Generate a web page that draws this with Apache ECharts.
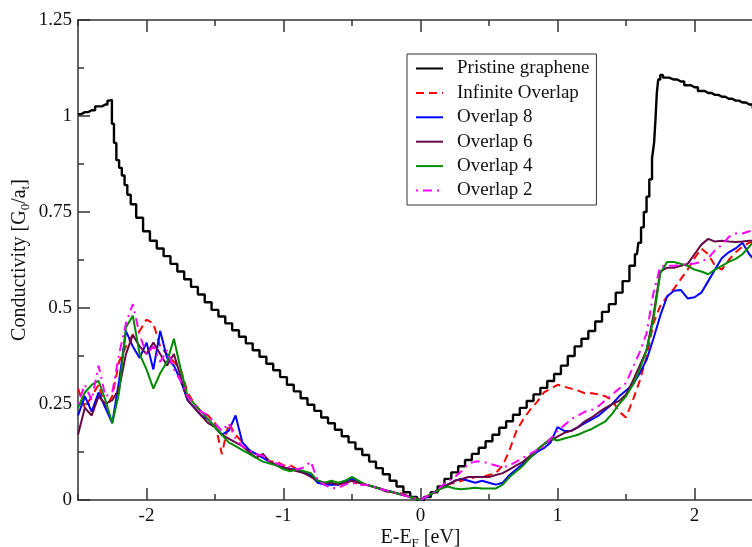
<!DOCTYPE html>
<html><head><meta charset="utf-8">
<script src="https://cdn.jsdelivr.net/npm/echarts@6/dist/echarts.min.js"></script>
<style>html,body{margin:0;padding:0;background:#fff}#c{width:752px;height:547px}</style>
</head><body><div id="c"></div>
<script>
// ---- data ----
const energy = [-2.5,-2.45,-2.4,-2.35,-2.3,-2.25,-2.2,-2.15,-2.1,-2.05,
  -2,-1.95,-1.9,-1.85,-1.8,-1.75,-1.7,-1.65,-1.6,-1.55,
  -1.5,-1.45,-1.4,-1.35,-1.3,-1.25,-1.2,-1.15,-1.1,-1.05,
  -1,-0.95,-0.9,-0.85,-0.8,-0.75,-0.7,-0.65,-0.6,-0.55,
  -0.5,-0.45,-0.4,-0.35,-0.3,-0.25,-0.2,-0.15,-0.1,-0.05,
  0,0.05,0.1,0.15,0.2,0.25,0.3,0.35,0.4,0.45,
  0.5,0.55,0.6,0.65,0.7,0.75,0.8,0.85,0.9,0.95,
  1,1.05,1.1,1.15,1.2,1.25,1.3,1.35,1.4,1.45,
  1.5,1.55,1.6,1.65,1.7,1.75,1.8,1.85,1.9,1.95,
  2,2.05,2.1,2.15,2.2,2.25,2.3,2.35,2.4,2.45,2.5];

const infiniteOverlap = [0.29,0.24,0.27,0.30,0.24,0.27,0.36,0.40,0.43,0.44,
  0.47,0.46,0.40,0.38,0.36,0.34,0.28,0.25,0.23,0.22,
  0.20,0.12,0.20,0.17,0.15,0.13,0.12,0.11,0.10,0.10,
  0.09,0.09,0.08,0.07,0.065,0.05,0.045,0.04,0.04,0.045,
  0.05,0.04,0.04,0.035,0.03,0.025,0.02,0.018,0.012,0.006,
  0,0.01,0.02,0.03,0.04,0.045,0.05,0.055,0.06,0.06,
  0.065,0.07,0.09,0.13,0.18,0.21,0.235,0.255,0.28,0.29,
  0.30,0.295,0.29,0.285,0.278,0.278,0.275,0.27,0.26,0.23,
  0.215,0.26,0.31,0.373,0.46,0.505,0.53,0.55,0.575,0.60,
  0.63,0.655,0.64,0.61,0.60,0.625,0.645,0.66,0.67,0.675,0.68];

const overlap8 = [0.22,0.27,0.23,0.28,0.24,0.20,0.31,0.44,0.40,0.37,
  0.41,0.34,0.44,0.37,0.35,0.31,0.26,0.24,0.22,0.21,
  0.19,0.17,0.18,0.22,0.15,0.13,0.12,0.11,0.10,0.09,
  0.085,0.08,0.08,0.07,0.065,0.045,0.04,0.04,0.04,0.05,
  0.055,0.045,0.04,0.035,0.03,0.025,0.02,0.016,0.01,0.005,
  0,0.008,0.02,0.03,0.04,0.05,0.055,0.05,0.045,0.05,
  0.045,0.04,0.045,0.065,0.08,0.095,0.11,0.125,0.135,0.15,
  0.19,0.18,0.18,0.19,0.20,0.21,0.22,0.235,0.25,0.27,
  0.285,0.30,0.33,0.365,0.42,0.48,0.53,0.545,0.547,0.525,
  0.528,0.54,0.57,0.60,0.63,0.645,0.655,0.67,0.64,0.62,0.61];

const overlap6 = [0.17,0.24,0.22,0.27,0.25,0.26,0.29,0.38,0.43,0.40,
  0.38,0.41,0.38,0.35,0.38,0.32,0.26,0.24,0.22,0.20,
  0.19,0.17,0.16,0.15,0.14,0.125,0.11,0.12,0.10,0.09,
  0.085,0.08,0.075,0.07,0.06,0.05,0.045,0.045,0.04,0.045,
  0.05,0.045,0.04,0.035,0.03,0.022,0.02,0.015,0.01,0.005,
  0,0.01,0.02,0.03,0.04,0.05,0.055,0.06,0.06,0.06,
  0.06,0.065,0.07,0.08,0.09,0.10,0.115,0.13,0.145,0.155,
  0.165,0.175,0.18,0.19,0.205,0.215,0.228,0.24,0.25,0.258,
  0.275,0.31,0.35,0.39,0.48,0.595,0.605,0.605,0.61,0.615,
  0.64,0.665,0.68,0.673,0.675,0.673,0.672,0.673,0.675,0.675,0.675];

const overlap4 = [0.24,0.28,0.30,0.31,0.26,0.20,0.28,0.45,0.48,0.38,
  0.34,0.29,0.33,0.36,0.42,0.34,0.27,0.25,0.23,0.21,
  0.19,0.17,0.15,0.14,0.13,0.12,0.11,0.10,0.095,0.09,
  0.08,0.075,0.08,0.075,0.07,0.05,0.045,0.05,0.045,0.05,
  0.06,0.05,0.04,0.035,0.03,0.025,0.02,0.015,0.01,0.005,
  0,0.01,0.02,0.03,0.035,0.03,0.028,0.03,0.032,0.03,
  0.03,0.03,0.04,0.06,0.075,0.09,0.11,0.13,0.145,0.16,
  0.155,0.16,0.165,0.17,0.178,0.185,0.195,0.205,0.225,0.25,
  0.27,0.30,0.34,0.39,0.47,0.59,0.62,0.62,0.615,0.61,
  0.60,0.595,0.588,0.60,0.61,0.62,0.628,0.64,0.66,0.68,0.685];

const overlap2 = [0.25,0.30,0.26,0.35,0.27,0.28,0.38,0.46,0.51,0.43,
  0.38,0.40,0.36,0.39,0.34,0.31,0.27,0.25,0.23,0.22,
  0.20,0.18,0.20,0.16,0.14,0.13,0.12,0.115,0.10,0.095,
  0.09,0.085,0.08,0.085,0.10,0.05,0.04,0.03,0.032,0.04,
  0.045,0.04,0.04,0.035,0.03,0.025,0.02,0.015,0.01,0.005,
  0,0.01,0.02,0.035,0.05,0.06,0.075,0.095,0.10,0.10,
  0.095,0.09,0.085,0.09,0.10,0.11,0.12,0.13,0.14,0.16,
  0.18,0.195,0.21,0.22,0.23,0.235,0.245,0.26,0.275,0.29,
  0.305,0.345,0.385,0.434,0.538,0.608,0.61,0.61,0.612,0.614,
  0.616,0.62,0.63,0.65,0.665,0.685,0.694,0.694,0.70,0.70,0.70];

const pristineEnergy = [-2.5,-2.45,-2.4,-2.35,-2.3,-2.27,-2.26,-2.245,-2.23,-2.21,
  -2.19,-2.17,-2.15,-2.13,-2.1,-2.05,-2,-1.95,-1.9,-1.85,
  -1.8,-1.75,-1.7,-1.65,-1.6,-1.55,-1.5,-1.45,-1.4,-1.35,
  -1.3,-1.25,-1.2,-1.15,-1.1,-1.05,-1,-0.95,-0.9,-0.85,
  -0.8,-0.75,-0.7,-0.65,-0.6,-0.55,-0.5,-0.45,-0.4,-0.35,
  -0.3,-0.25,-0.2,-0.15,-0.1,-0.05,0,0.05,0.1,0.15,
  0.2,0.25,0.3,0.35,0.4,0.45,0.5,0.55,0.6,0.65,
  0.7,0.75,0.8,0.85,0.9,0.95,1,1.05,1.1,1.15,
  1.2,1.25,1.3,1.35,1.4,1.45,1.5,1.55,1.58,1.6,
  1.62,1.64,1.66,1.68,1.7,1.71,1.72,1.73,1.74,1.76,
  1.78,1.85,1.9,1.95,2,2.05,2.1,2.15,2.2,2.25,
  2.3,2.35,2.4,2.45,2.5];
const pristine = [1.005,1.01,1.015,1.025,1.03,1.04,1.042,0.98,0.93,0.885,
  0.865,0.845,0.82,0.795,0.77,0.735,0.70,0.675,0.655,0.635,
  0.615,0.595,0.575,0.555,0.535,0.515,0.495,0.478,0.46,0.442,
  0.425,0.408,0.39,0.373,0.355,0.338,0.32,0.30,0.283,0.265,
  0.248,0.232,0.215,0.20,0.183,0.166,0.15,0.133,0.117,0.10,
  0.083,0.067,0.05,0.035,0.02,0.008,0,0.008,0.02,0.035,
  0.055,0.072,0.088,0.104,0.12,0.136,0.153,0.17,0.188,0.205,
  0.222,0.24,0.258,0.275,0.292,0.31,0.328,0.35,0.375,0.40,
  0.42,0.44,0.465,0.49,0.51,0.54,0.57,0.61,0.64,0.67,
  0.71,0.75,0.79,0.835,0.89,0.93,0.99,1.06,1.095,1.107,
  1.10,1.095,1.09,1.08,1.075,1.065,1.06,1.055,1.05,1.045,
  1.04,1.035,1.03,1.02,1.015];

const seriesNames = ['Pristine graphene','Infinite Overlap','Overlap 8','Overlap 6','Overlap 4','Overlap 2'];
const xMajorTicks = [-2,-1,0,1,2];

// ---- chart ----
const zip = (xs, ys) => xs.map((x, i) => [x, ys[i]]);
const FONT = 'Liberation Serif';
const AX = '#333';
const chart = echarts.init(document.getElementById('c'), null, {renderer: 'canvas'});
const gridRect = {left: 78, top: 20, width: 685, height: 480, outerBoundsMode: 'none', containLabel: false};
const nameStyle = {
  fontFamily: FONT, fontSize: 20, color: '#111', lineHeight: 24,
  rich: {sub: {fontFamily: FONT, fontSize: 13, lineHeight: 13, verticalAlign: 'bottom', color: '#111'}}
};
const lineSeries = (name, xs, ys, color, width, type, extra) => Object.assign({
  type: 'line', name, xAxisIndex: 0, yAxisIndex: 0, data: zip(xs, ys),
  symbol: 'none', showSymbol: false, silent: true, clip: true,
  lineStyle: {color, width, type}, itemStyle: {color},
  emphasis: {disabled: true}
}, extra || {});

const option = {
  animation: false,
  backgroundColor: '#fff',
  grid: [Object.assign({}, gridRect), Object.assign({}, gridRect)],
  legend: {
    orient: 'vertical', left: 407, top: 54,
    padding: [5, 7, 5, 8], itemWidth: 27, itemHeight: 18, itemGap: 5.4,
    borderColor: AX, borderWidth: 1, backgroundColor: '#fff',
    itemStyle: {opacity: 0, borderWidth: 0},
    textStyle: {fontFamily: FONT, fontSize: 19, color: '#111', lineHeight: 18, padding: [0, 0, 0, 9]},
    data: seriesNames, selectedMode: false
  },
  xAxis: [
    {gridIndex: 0, type: 'value', position: 'bottom', min: -2.5, max: 2.5, interval: 0.5,
     axisLine: {show: true, onZero: false, lineStyle: {color: AX, width: 1.5}},
     axisTick: {show: true, inside: true, length: 6, lineStyle: {color: AX, width: 1.5}},
     axisLabel: {show: true, margin: 7, fontFamily: FONT, fontSize: 19, color: '#111',
       formatter: v => Math.abs(v - Math.round(v)) < 1e-9 && Math.abs(v) < 2.4 ? String(Math.round(v)) : ''},
     splitLine: {show: false},
     name: 'E-E{sub|F} [eV]', nameLocation: 'middle', nameGap: 26, nameMoveOverlap: false, nameTextStyle: nameStyle},
    {gridIndex: 0, type: 'value', position: 'top', min: -2.5, max: 2.5, interval: 0.5,
     axisLine: {show: true, onZero: false, lineStyle: {color: AX, width: 1.5}},
     axisTick: {show: true, inside: true, length: 6, lineStyle: {color: AX, width: 1.5}},
     axisLabel: {show: false}, splitLine: {show: false}},
    {gridIndex: 1, type: 'value', position: 'bottom', min: -2.5, max: 2.5,
     axisLine: {show: false, onZero: false},
     axisTick: {show: true, inside: true, length: 12, customValues: xMajorTicks, lineStyle: {color: AX, width: 1.5}},
     axisLabel: {show: false}, splitLine: {show: false}},
    {gridIndex: 1, type: 'value', position: 'top', min: -2.5, max: 2.5,
     axisLine: {show: false, onZero: false},
     axisTick: {show: true, inside: true, length: 12, customValues: xMajorTicks, lineStyle: {color: AX, width: 1.5}},
     axisLabel: {show: false}, splitLine: {show: false}}
  ],
  yAxis: [
    {gridIndex: 0, type: 'value', position: 'left', min: 0, max: 1.25, interval: 0.25,
     axisLine: {show: true, onZero: false, lineStyle: {color: AX, width: 1.5}},
     axisTick: {show: true, inside: true, length: 12, lineStyle: {color: AX, width: 1.5}},
     minorTick: {show: true, splitNumber: 2, length: 6, lineStyle: {color: AX, width: 1.5}},
     axisLabel: {show: true, margin: 6, fontFamily: FONT, fontSize: 19, color: '#111'},
     splitLine: {show: false}, minorSplitLine: {show: false},
     name: 'Conductivity [G{sub|0}/a{sub|t}]', nameLocation: 'middle', nameGap: 46, nameMoveOverlap: false, nameTextStyle: nameStyle},
    {gridIndex: 1, type: 'value', min: 0, max: 1.25, show: false}
  ],
  series: [
    lineSeries(seriesNames[0], pristineEnergy, pristine, '#000000', 2.4, 'solid', {step: 'middle'}),
    lineSeries(seriesNames[1], energy, infiniteOverlap, '#ff0000', 2, [8, 5]),
    lineSeries(seriesNames[2], energy, overlap8, '#0000ff', 2, 'solid'),
    lineSeries(seriesNames[3], energy, overlap6, '#670748', 2, 'solid'),
    lineSeries(seriesNames[4], energy, overlap4, '#008b00', 2, 'solid'),
    lineSeries(seriesNames[5], energy, overlap2, '#ff00ff', 2, [2, 5, 9, 5])
  ]
};
chart.setOption(option);
</script>
</body></html>
